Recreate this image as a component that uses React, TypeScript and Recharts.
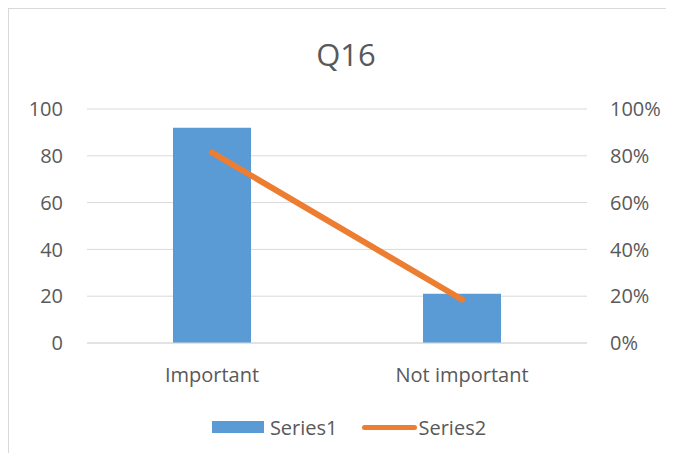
import { ComposedChart, Bar, Line, XAxis, YAxis, CartesianGrid, Legend } from 'recharts';

const categories = ['Important', 'Not important'];
const series1 = [92, 21];
const series2 = [0.814, 0.186];
const leftTicks = [0, 20, 40, 60, 80, 100];
const rightTicks = [0, 0.2, 0.4, 0.6, 0.8, 1];

const data = categories.map((name, i) => ({
    name,
    series1: series1[i],
    series2: series2[i],
}));

const textColor = '#595959';
const font = '"Open Sans", sans-serif';

function LegendContent() {
    return (
        <div style={{ display: 'flex', justifyContent: 'center', alignItems: 'center', height: 24, paddingLeft: 15, fontFamily: font, fontSize: 20, color: textColor }}>
            <span style={{ display: 'inline-block', width: 52, height: 12, background: '#5b9bd5', marginRight: 6 }} />
            <span style={{ marginRight: 24 }}>Series1</span>
            <span style={{ display: 'inline-block', width: 55, height: 5, borderRadius: 3, background: '#ed7d31', marginRight: 2 }} />
            <span>Series2</span>
        </div>
    );
}

export default function App() {
    return (
        <div style={{ position: 'relative', boxSizing: 'border-box', width: 666, height: 445, borderLeft: '1px solid #d9d9d9', borderTop: '1px solid #d9d9d9', fontFamily: font }}>
            <div style={{ position: 'absolute', top: 30, left: 0, width: 674, textAlign: 'center', fontSize: 31, lineHeight: '31px', color: textColor }}>
                Q16
            </div>
            <ComposedChart width={665} height={444} data={data} margin={{ top: 100, right: 0, bottom: 14, left: 0 }}>
                <CartesianGrid vertical={false} stroke="#d9d9d9" yAxisId="left" />
                <XAxis
                    dataKey="name"
                    height={72}
                    tickLine={false}
                    axisLine={{ stroke: '#d9d9d9' }}
                    tickMargin={19}
                    tick={{ fontSize: 20, fill: textColor, fontFamily: font }}
                />
                <YAxis
                    yAxisId="left"
                    width={78}
                    domain={[0, 100]}
                    ticks={leftTicks}
                    tickLine={false}
                    axisLine={false}
                    tickMargin={18}
                    tick={{ fontSize: 20, fill: textColor, fontFamily: font }}
                />
                <YAxis
                    yAxisId="right"
                    orientation="right"
                    width={87}
                    domain={[0, 1]}
                    ticks={rightTicks}
                    tickFormatter={(v: number) => `${Math.round(v * 100)}%`}
                    tickLine={false}
                    axisLine={false}
                    tickMargin={17}
                    tick={{ fontSize: 20, fill: textColor, fontFamily: font }}
                />
                <Bar yAxisId="left" dataKey="series1" name="Series1" fill="#5b9bd5" barSize={78} isAnimationActive={false} />
                <Line yAxisId="right" dataKey="series2" name="Series2" stroke="#ed7d31" strokeWidth={6} strokeLinecap="round" dot={false} activeDot={false} isAnimationActive={false} />
                <Legend verticalAlign="bottom" content={<LegendContent />} />
            </ComposedChart>
        </div>
    );
}
